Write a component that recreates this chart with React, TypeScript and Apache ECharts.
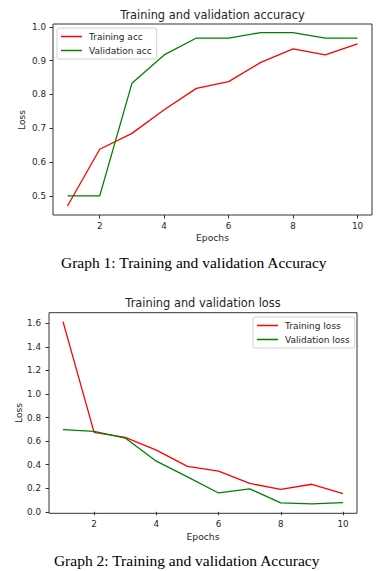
import React, { useEffect, useRef } from "react";
import * as echarts from "echarts";

const epochs = [1, 2, 3, 4, 5, 6, 7, 8, 9, 10];
const trainingAcc = [0.47, 0.638, 0.685, 0.755, 0.818, 0.838, 0.895, 0.935, 0.917, 0.95];
const validationAcc = [0.5, 0.5, 0.833, 0.917, 0.967, 0.967, 0.983, 0.983, 0.967, 0.967];
const trainingLoss = [1.614, 0.674, 0.632, 0.524, 0.386, 0.345, 0.241, 0.19, 0.234, 0.155];
const validationLoss = [0.698, 0.683, 0.626, 0.43, 0.297, 0.16, 0.195, 0.076, 0.068, 0.078];
const xTicks = [2, 4, 6, 8, 10];
const accTicks = [0.5, 0.6, 0.7, 0.8, 0.9, 1.0];
const lossTicks = [0, 0.2, 0.4, 0.6, 0.8, 1.0, 1.2, 1.4, 1.6];
const titles = ["Training and validation accuracy", "Training and validation loss"];
const captions = ["Graph 1: Training and validation Accuracy", "Graph 2: Training and validation Accuracy"];
const yNames = ["Loss", "Loss"];

const FONT = "DejaVu Sans";
const TXT = "#262626";
const RED = "#ff0000";
const GREEN = "#008000";

const pairs = (ys: number[]) => epochs.map((e, i) => [e, ys[i]]);

export default function App() {
  const ref = useRef<HTMLDivElement>(null);
  useEffect(() => {
    if (!ref.current) return;
    const chart = echarts.init(ref.current, null, { renderer: "svg" });
    const xAxisBase = (gridIndex: number, nameGap: number) => ({
      type: "value",
      gridIndex,
      min: 0.55,
      max: 10.45,
      name: "Epochs",
      nameLocation: "middle",
      nameGap,
      nameTextStyle: { fontFamily: FONT, fontSize: 9.2, color: TXT },
      axisLine: { show: false },
      splitLine: { show: false },
      axisTick: { show: true, inside: false, length: 3.5, lineStyle: { color: "#333" }, customValues: xTicks },
      axisLabel: { fontFamily: FONT, fontSize: 8.8, color: TXT, margin: 6, customValues: xTicks, formatter: (v: number) => String(v) },
    });
    const yAxisBase = (gridIndex: number, min: number, max: number, ticks: number[], margin: number) => ({
      type: "value",
      gridIndex,
      min,
      max,
      axisLine: { show: false },
      splitLine: { show: false },
      axisTick: { show: true, inside: false, length: 3.5, lineStyle: { color: "#333" }, customValues: ticks },
      axisLabel: { fontFamily: FONT, fontSize: 8.8, color: TXT, margin, customValues: ticks, formatter: (v: number) => v.toFixed(1) },
    });
    const lineSeries = (name: string, data: number[], color: string, idx: number) => ({
      type: "line",
      name,
      xAxisIndex: idx,
      yAxisIndex: idx,
      data: pairs(data),
      symbol: "none",
      lineStyle: { color, width: 1.3 },
      itemStyle: { color },
    });
    const legendBase = (data: string[], left: number, top: number) => ({
      data,
      orient: "vertical",
      left,
      top,
      padding: [4, 5, 4, 4],
      itemGap: 5,
      itemWidth: 21,
      itemHeight: 1.5,
      icon: "rect",
      borderColor: "#d0d0d0",
      borderWidth: 1,
      borderRadius: 2,
      backgroundColor: "#fff",
      textStyle: { fontFamily: FONT, fontSize: 9, color: TXT, padding: [0, 0, 0, 2] },
    });
    chart.setOption({
      animation: false,
      backgroundColor: "#fff",
      grid: [
        { left: 53, top: 24, width: 319, height: 191, show: true, borderColor: "#333", borderWidth: 1, backgroundColor: "transparent" },
        { left: 49, top: 312.7, width: 308, height: 200.6, show: true, borderColor: "#333", borderWidth: 1, backgroundColor: "transparent" },
      ],
      xAxis: [xAxisBase(0, 18), xAxisBase(1, 19)],
      yAxis: [
        yAxisBase(0, 0.4435, 1.0085, accTicks, 7),
        yAxisBase(1, -0.0125, 1.69, lossTicks, 8),
      ],
      legend: [
        legendBase(["Training acc", "Validation acc"], 57, 28),
        legendBase(["Training loss", "Validation loss"], 253, 317),
      ],
      series: [
        lineSeries("Training acc", trainingAcc, RED, 0),
        lineSeries("Validation acc", validationAcc, GREEN, 0),
        lineSeries("Training loss", trainingLoss, RED, 1),
        lineSeries("Validation loss", validationLoss, GREEN, 1),
      ],
      graphic: [
        { type: "text", x: 212.5, y: 15, style: { text: titles[0], fontFamily: FONT, fontSize: 11.4, fill: TXT, textAlign: "center", textVerticalAlign: "middle" } },
        { type: "text", x: 203, y: 303.3, style: { text: titles[1], fontFamily: FONT, fontSize: 11.4, fill: TXT, textAlign: "center", textVerticalAlign: "middle" } },
        { type: "text", x: 21.5, y: 120, rotation: Math.PI / 2, style: { text: yNames[0], fontFamily: FONT, fontSize: 9.2, fill: TXT, textAlign: "center", textVerticalAlign: "middle" } },
        { type: "text", x: 18.3, y: 413, rotation: Math.PI / 2, style: { text: yNames[1], fontFamily: FONT, fontSize: 9.2, fill: TXT, textAlign: "center", textVerticalAlign: "middle" } },
        { type: "text", x: 193.8, y: 262.7, style: { text: captions[0], fontFamily: "Liberation Serif", fontSize: 15.5, fill: "#000", textAlign: "center", textVerticalAlign: "middle" } },
        { type: "text", x: 186.7, y: 560.7, style: { text: captions[1], fontFamily: "Liberation Serif", fontSize: 15.5, fill: "#000", textAlign: "center", textVerticalAlign: "middle" } },
      ],
    });
    return () => chart.dispose();
  }, []);
  return <div ref={ref} style={{ position: "fixed", left: 0, top: 0, width: 383, height: 571 }} />;
}
